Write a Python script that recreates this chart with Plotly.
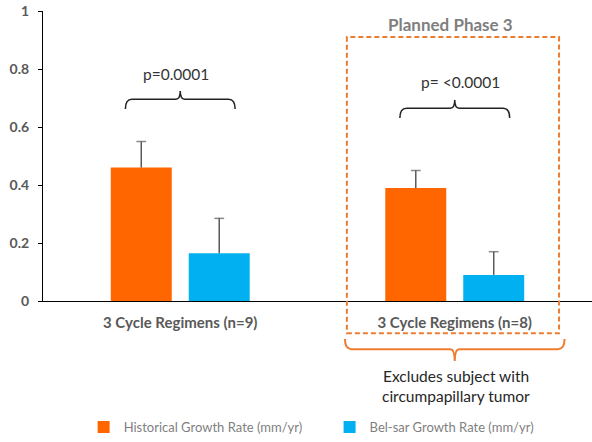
import plotly.graph_objects as go

# ---------------- data ----------------
categories = ["3 Cycle Regimens (n=9)", "3 Cycle Regimens (n=8)"]
historical_rate = [0.46, 0.39]
historical_err = [0.09, 0.06]
belsar_rate = [0.165, 0.09]
belsar_err = [0.12, 0.08]
p_labels = ["p=0.0001", "p= <0.0001"]
y_ticks = [0, 0.2, 0.4, 0.6, 0.8, 1]
y_ticktext = ["0", "0.2", "0.4", "0.6", "0.8", "1"]

ORANGE = "#FF6600"
BLUE = "#00B0F0"
BOX = "#ED7D31"
ERR = "#595959"
FONT = "Lato"
BARGAP = 0.432

x_pos = list(range(len(categories)))

fig = go.Figure()
fig.add_trace(go.Bar(
    x=x_pos, y=historical_rate, name="Historical Growth Rate (mm/yr)",
    marker=dict(color=ORANGE, line=dict(width=0)), legend="legend", hoverinfo="y",
))
fig.add_trace(go.Bar(
    x=x_pos, y=belsar_rate, name="Bel-sar Growth Rate (mm/yr)",
    marker=dict(color=BLUE, line=dict(width=0)), legend="legend2", hoverinfo="y",
))

# upper-only error whiskers, grouped like the bars
def whisker_xy(vals, errs):
    xs, ys, sizes = [], [], []
    for x, v, e in zip(x_pos, vals, errs):
        xs += [x, x, None]
        ys += [v, v + e, None]
        sizes += [0, 7, 0]
    return xs, ys, sizes

for vals, errs in [(historical_rate, historical_err), (belsar_rate, belsar_err)]:
    wx, wy, ws = whisker_xy(vals, errs)
    fig.add_trace(go.Scatter(
        x=wx, y=wy, mode="lines+markers", showlegend=False, hoverinfo="skip",
        line=dict(color=ERR, width=1.5),
        marker=dict(symbol="line-ew", size=ws, color=ERR, line=dict(color=ERR, width=1.5)),
    ))

# data -> paper helpers (x range [-0.5, 1.5], y range [0, 1])
XR = (-0.5, 1.5)
YR = (0.0, 1.0)
def px_(xd):
    return (xd - XR[0]) / (XR[1] - XR[0])
def py_(yd):
    return (yd - YR[0]) / (YR[1] - YR[0])

def brace_path(xc, half, y_line, y_end, y_tip, rx=0.012):
    x0, x1 = px_(xc - half), px_(xc + half)
    xm = px_(xc)
    yl, ye, yt = py_(y_line), py_(y_end), py_(y_tip)
    rx2 = 0.008
    return (f"M {x0},{ye} Q {x0},{yl} {x0 + rx},{yl} "
            f"L {xm - rx2},{yl} Q {xm},{yl} {xm},{yt} "
            f"Q {xm},{yl} {xm + rx2},{yl} "
            f"L {x1 - rx},{yl} Q {x1},{yl} {x1},{ye}")

shapes = []
# significance braces (black)
brace_levels = [(0.696, 0.662, 0.724), (0.665, 0.631, 0.693)]
for i, (yl, ye, yt) in enumerate(brace_levels):
    shapes.append(dict(type="path", xref="paper", yref="paper",
                       path=brace_path(x_pos[i], 0.2, yl, ye, yt),
                       line=dict(color="#222222", width=1.5)))
# dashed "Planned Phase 3" box
shapes.append(dict(type="rect", xref="paper", yref="paper",
                   x0=px_(0.607), x1=px_(1.38), y0=py_(-0.111), y1=py_(0.910),
                   line=dict(color=BOX, width=2, dash="5px,3px")))
# orange brace below the box
shapes.append(dict(type="path", xref="paper", yref="paper",
                   path=brace_path(1.0, 0.4, -0.166, -0.131, -0.207),
                   line=dict(color=BOX, width=2)))

annotations = []
p_y = [0.783, 0.755]
p_x = [-0.015, 1.02]
for i, txt in enumerate(p_labels):
    annotations.append(dict(x=px_(p_x[i]), y=py_(p_y[i]), xref="paper", yref="paper",
                            text=txt, showarrow=False, xanchor="center", yanchor="middle",
                            font=dict(family=FONT, size=15.5, color="#333333")))
annotations.append(dict(x=px_(0.985), y=py_(0.955), xref="paper", yref="paper",
                        text="<b>Planned Phase 3</b>", showarrow=False,
                        xanchor="center", yanchor="middle",
                        font=dict(family=FONT, size=17, color="#7F7F7F")))
annotations.append(dict(x=px_(1.005), y=py_(-0.26), xref="paper", yref="paper",
                        text="Excludes subject with", showarrow=False,
                        xanchor="center", yanchor="middle",
                        font=dict(family=FONT, size=15.5, color="#262626")))
annotations.append(dict(x=px_(1.005), y=py_(-0.329), xref="paper", yref="paper",
                        text="circumpapillary tumor", showarrow=False,
                        xanchor="center", yanchor="middle",
                        font=dict(family=FONT, size=15.5, color="#262626")))

legend_common = dict(orientation="h", y=-0.436, yanchor="middle",
                     font=dict(family=FONT, size=13, color="#7F7F7F"),
                     bgcolor="rgba(0,0,0,0)", xanchor="left")

fig.update_layout(
    width=592, height=442,
    margin=dict(l=43, r=0, t=11, b=141),
    paper_bgcolor="white", plot_bgcolor="white",
    barmode="group", bargap=BARGAP, bargroupgap=0.218,
    scattermode="group", scattergap=BARGAP,
    font=dict(family=FONT),
    shapes=shapes, annotations=annotations,
    legend=dict(x=0.074, **legend_common),
    legend2=dict(x=0.522, **legend_common),
    showlegend=True,
)
fig.update_xaxes(
    range=list(XR), tickvals=x_pos, ticktext=[f"<b>{c}</b>" for c in categories],
    showline=True, linecolor="black", linewidth=1, ticks="", showgrid=False,
    zeroline=False, automargin=False, ticklabelstandoff=8,
    tickfont=dict(family=FONT, size=15, color="#595959"),
)
fig.update_yaxes(
    range=list(YR), tickvals=y_ticks, ticktext=[f"<b>{t}</b>" for t in y_ticktext],
    showline=True, linecolor="black", linewidth=1, ticks="outside", ticklen=4,
    tickcolor="black", showgrid=False, zeroline=False, ticklabelstandoff=6,
    automargin=False, tickfont=dict(family=FONT, size=14, color="#595959"),
)

fig.write_html("out.html", config={"displayModeBar": False},
               post_script="document.body.style.margin='0px';")
